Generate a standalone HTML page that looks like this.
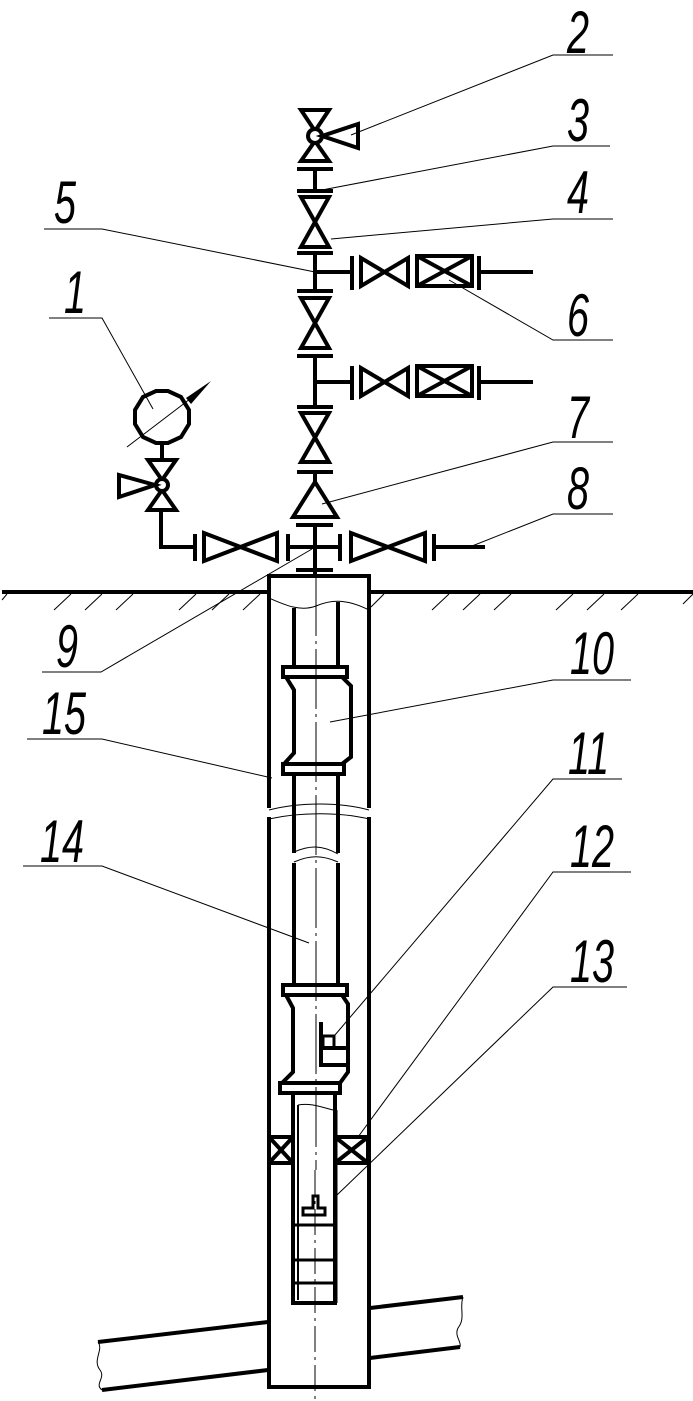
<!DOCTYPE html>
<html><head><meta charset="utf-8"><style>
html,body{margin:0;padding:0;background:#fff;}
svg{display:block;}
text{font-family:"Liberation Sans",sans-serif;font-style:italic;font-size:60px;fill:#000;}
</style></head><body>
<svg width="693" height="1401" viewBox="0 0 693 1401" xmlns="http://www.w3.org/2000/svg">
<g fill="none" stroke="#000" stroke-width="4" stroke-linejoin="miter">
<polygon points="301,110 329,110 315,131"/>
<polygon points="315,141 329,161 301,161"/>
<circle cx="315" cy="136" r="7" fill="#fff"/>
<polygon points="322,136 358,124 358,148"/>
<line x1="315" y1="169" x2="315" y2="191"/>
<line x1="297" y1="169" x2="333" y2="169"/>
<line x1="297" y1="191" x2="333" y2="191"/>
<polygon points="301,197 329,197 301,247 329,247"/>
<line x1="297" y1="253" x2="333" y2="253"/>
<line x1="315" y1="253" x2="315" y2="291"/>
<line x1="297" y1="291" x2="333" y2="291"/>
<line x1="315" y1="272" x2="352" y2="272"/>
<line x1="352" y1="256" x2="352" y2="290"/>
<polygon points="361,258 361,286 408,258 408,286"/>
<rect x="417" y="256" width="55" height="30"/>
<line x1="417" y1="256" x2="472" y2="286"/><line x1="472" y1="256" x2="417" y2="286"/>
<line x1="479" y1="256" x2="479" y2="290"/>
<line x1="479" y1="272" x2="533" y2="272"/>
<polygon points="301,298 329,298 301,348 329,348"/>
<line x1="297" y1="356" x2="333" y2="356"/>
<line x1="315" y1="356" x2="315" y2="407"/>
<line x1="297" y1="407" x2="333" y2="407"/>
<line x1="315" y1="382" x2="352" y2="382"/>
<line x1="352" y1="366" x2="352" y2="400"/>
<polygon points="361,368 361,396 408,368 408,396"/>
<rect x="417" y="366" width="55" height="30"/>
<line x1="417" y1="366" x2="472" y2="396"/><line x1="472" y1="366" x2="417" y2="396"/>
<line x1="479" y1="366" x2="479" y2="400"/>
<line x1="479" y1="382" x2="533" y2="382"/>
<polygon points="301,413 329,413 301,462 329,462"/>
<line x1="297" y1="472" x2="333" y2="472"/>
<line x1="315" y1="472" x2="315" y2="482"/>
<polygon points="315,482 337,517 293,517"/>
<line x1="296" y1="525" x2="333" y2="525"/>
<line x1="315" y1="525" x2="315" y2="576"/>
<line x1="296" y1="570" x2="333" y2="570"/>
<line x1="288" y1="547" x2="340" y2="547"/>
<line x1="288" y1="534" x2="288" y2="561"/>
<line x1="340" y1="534" x2="340" y2="561"/>
<polygon points="204,533 204,561 277,533 277,561"/>
<line x1="195" y1="534" x2="195" y2="561"/>
<polyline points="195,547 161,547 161,510"/>
<polygon points="351,533 351,561 425,533 425,561"/>
<line x1="434" y1="534" x2="434" y2="561"/>
<line x1="434" y1="547" x2="485" y2="547"/>
<polygon points="148,460 176,460 162,480"/>
<polygon points="162,490 176,510 148,510"/>
<circle cx="162" cy="485" r="6" fill="#fff"/>
<polygon points="155,485 119,475 119,497"/>
<line x1="162" y1="443" x2="162" y2="460"/>
<polygon points="156,391 168,391 181,397 189,410 189,424 181,437 168,443 156,443 143,437 135,424 135,410 143,397"/>
</g>
<line x1="127" y1="447" x2="190" y2="399" stroke="#000" stroke-width="1"/>
<polygon points="186,398 211,381 191,404" fill="#000"/>
<g stroke="#000" stroke-width="4"><line x1="2" y1="592" x2="268" y2="592"/><line x1="370" y1="592" x2="693" y2="592"/></g>
<g stroke="#000" stroke-width="1">
<line x1="7" y1="594" x2="2" y2="600"/><line x1="71" y1="594" x2="54" y2="610"/><line x1="102" y1="594" x2="85" y2="610"/><line x1="133" y1="594" x2="116" y2="610"/><line x1="196" y1="594" x2="179" y2="610"/><line x1="229" y1="594" x2="212" y2="610"/><line x1="260" y1="594" x2="243" y2="610"/><line x1="384" y1="594" x2="371" y2="607"/><line x1="449" y1="594" x2="432" y2="610"/><line x1="480" y1="594" x2="463" y2="610"/><line x1="511" y1="594" x2="494" y2="610"/><line x1="573" y1="594" x2="556" y2="610"/><line x1="604" y1="594" x2="587" y2="610"/><line x1="638" y1="594" x2="621" y2="610"/><line x1="693" y1="594" x2="683" y2="604"/>
</g>
<g stroke="#000" stroke-width="1" fill="none">
<path d="M98,1342 C104,1350 92,1360 100,1370 C106,1378 94,1384 102,1390"/>
<path d="M463,1297 C459,1308 466,1318 458,1328 C454,1336 462,1342 460,1347"/>
</g>
<g stroke="#000" stroke-width="4">
<line x1="98" y1="1342" x2="268" y2="1322"/><line x1="102" y1="1390" x2="268" y2="1370"/>
<line x1="370" y1="1308" x2="463" y2="1297"/><line x1="370" y1="1358" x2="460" y2="1347"/>
</g>
<g fill="none" stroke="#000" stroke-width="4">
<polyline points="269,808 269,576 369,576 369,808"/>
<polyline points="269,817 269,1387 369,1387 369,817"/>
<line x1="294" y1="608" x2="294" y2="667"/><line x1="338" y1="602" x2="338" y2="667"/>
<line x1="294" y1="775" x2="294" y2="853"/><line x1="338" y1="775" x2="338" y2="853"/>
<line x1="294" y1="863" x2="294" y2="985"/><line x1="338" y1="863" x2="338" y2="985"/>
<rect x="283" y="667" width="64" height="10"/>
<polyline points="286,677 294,690 294,753 284,764"/>
<polyline points="342,677 351,686 351,757 342,764"/>
<rect x="283" y="764" width="61" height="10"/>
<rect x="283" y="985" width="64" height="10"/>
<polyline points="286,995 293,1008 293,1072 282,1083"/>
<polyline points="342,995 348,1004 348,1072 340,1083"/>
<rect x="280" y="1083" width="60" height="10"/>
<polyline points="321,1022 321,1065 347,1065"/>
<line x1="321" y1="1048" x2="347" y2="1048"/>
<rect x="323" y="1036" width="11" height="12" stroke-width="3"/>
<polyline points="293,1093 293,1303 335,1303 335,1093"/>
<rect x="269" y="1137" width="24" height="26"/>
<line x1="269" y1="1137" x2="293" y2="1163"/><line x1="293" y1="1137" x2="269" y2="1163"/>
<rect x="335" y="1137" width="33" height="26"/>
<line x1="335" y1="1137" x2="368" y2="1163"/><line x1="368" y1="1137" x2="335" y2="1163"/>
<line x1="293" y1="1225" x2="335" y2="1225" stroke-width="3"/>
<line x1="293" y1="1260" x2="335" y2="1260" stroke-width="3"/>
<line x1="293" y1="1283" x2="335" y2="1283" stroke-width="3"/>
<path d="M313,1208 L313,1196 L318,1196 L318,1208 L325,1208 L325,1215 L303,1215 L303,1208 Z" stroke-width="3"/>
</g>
<line x1="298" y1="1105" x2="298" y2="1300" stroke="#000" stroke-width="2"/>
<line x1="336" y1="1110" x2="336" y2="1303" stroke="#000" stroke-width="3"/>
<g fill="none" stroke="#000" stroke-width="1">
<path d="M269,598 C285,605 300,612 316,606 C330,600 345,598 369,610"/>
<path d="M269,810 C300,802 340,802 369,810"/>
<path d="M269,819 C300,812 340,812 369,819"/>
<path d="M294,852 C310,845 322,845 338,854"/>
<path d="M294,862 C310,855 322,855 338,862"/>
<path d="M298,1105 C310,1103 318,1106 333,1110"/>
<line x1="315" y1="1170" x2="315" y2="1401" stroke-dasharray="26,5,3,5"/>
<line x1="316" y1="576" x2="316" y2="1170" stroke-dasharray="60,5,3,5"/>
</g>
<g stroke="#000" stroke-width="1" fill="none">
<polyline points="613,55 553,55 351,135"/>
<polyline points="610,146 553,146 322,190"/>
<polyline points="613,219 553,219 331,239"/>
<polyline points="44,229 102,229 315,272"/>
<polyline points="613,340 553,340 449,280"/>
<polyline points="49,318 102,318 153,409"/>
<polyline points="613,442 553,442 322,504"/>
<polyline points="613,514 553,514 467,548"/>
<polyline points="42,672 101,672 312,549"/>
<polyline points="631,680 553,680 330,722"/>
<polyline points="27,739 102,739 272,778"/>
<polyline points="622,779 553,779 335,1035"/>
<polyline points="631,872 553,872 358,1137"/>
<polyline points="23,866 102,866 309,943"/>
<polyline points="627,987 553,987 337,1195"/>
</g>
<g>
<text transform="translate(567,53) scale(0.66,1)">2</text>
<text transform="translate(567,141) scale(0.66,1)">3</text>
<text transform="translate(567,213) scale(0.66,1)">4</text>
<text transform="translate(54,223) scale(0.66,1)">5</text>
<text transform="translate(567,336) scale(0.66,1)">6</text>
<text transform="translate(64,313) scale(0.66,1)">1</text>
<text transform="translate(567,438) scale(0.66,1)">7</text>
<text transform="translate(567,509) scale(0.66,1)">8</text>
<text transform="translate(56,667) scale(0.66,1)">9</text>
<text transform="translate(570,674) scale(0.66,1)">10</text>
<text transform="translate(42,734) scale(0.66,1)">15</text>
<text transform="translate(568,774) scale(0.66,1)">11</text>
<text transform="translate(570,867) scale(0.66,1)">12</text>
<text transform="translate(40,862) scale(0.66,1)">14</text>
<text transform="translate(570,982) scale(0.66,1)">13</text>
</g>
</svg>
</body></html>
